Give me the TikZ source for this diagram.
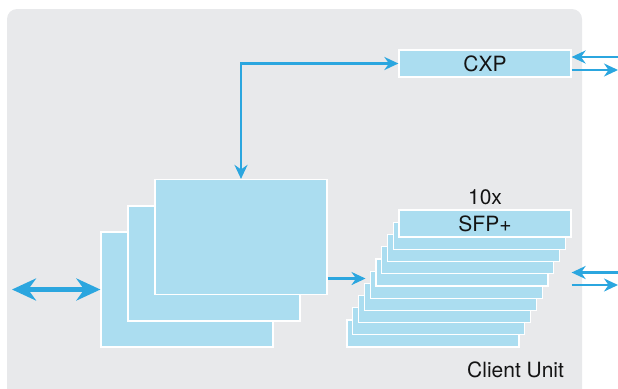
\documentclass[tikz,border=0pt]{standalone}
\usepackage{fontspec}
\setmainfont{TeX Gyre Heros}
\usepackage{tikz}
\usetikzlibrary{arrows.meta, positioning}

\definecolor{panelgray}{HTML}{E8E9EB}
\definecolor{boxblue}{HTML}{ABDDF0}
\definecolor{arrowblue}{HTML}{2BA6DF}

\tikzset{
    card/.style={draw=white, line width=1.2pt, fill=boxblue, minimum width=172pt, minimum height=115pt, inner sep=0pt},
    slot/.style={draw=white, line width=1.2pt, fill=boxblue, minimum width=172pt, minimum height=27pt, inner sep=0pt},
    link/.style={draw=arrowblue, line width=2.8pt, -{Stealth[length=14pt, width=13pt]}},
    duallink/.style={draw=arrowblue, line width=2.8pt, {Stealth[length=14pt, width=13pt]}-{Stealth[length=14pt, width=13pt]}},
    biglink/.style={draw=arrowblue, line width=4.5pt, {Stealth[length=24pt, width=22pt]}-{Stealth[length=24pt, width=22pt]}},
    label/.style={font=\fontsize{21}{25}\selectfont, text=black!92}
}

\begin{document}
\begin{tikzpicture}[x=1pt, y=-1pt]
    \useasboundingbox (0,0) rectangle (618,388);

    % grey unit panel
    \fill[panelgray, rounded corners=10pt] (7,9) rectangle (582,400);

    % CXP module
    \node[slot, label] (cxp) at (485,63.5) {CXP};

    % stacked line cards
    \node[card] (card1) at (187,289.5) {};
    \node[card] (card2) at (214,263.5) {};
    \node[card] (card3) at (241,237) {};

    % 10x SFP+ stack, back to front
    \foreach \i in {0,...,9} {
        \node[slot] (sfp\i) at ({433+5.78*\i}, {333.5-12.22*\i}) {};
    }
    \node[label] at (sfp9) {SFP+};
    \node[label, above=1pt of sfp9] (count) {10x};

    \node[label, anchor=east] (unitlabel) at (567.5,370) {Client Unit};

    % connectors
    \draw[duallink] (cxp.west) -| (card3.north);

    \coordinate (host) at (12,289.5);
    \draw[biglink] (host) -- (card1.west);

    \coordinate (sfpin) at ([xshift=-4pt, yshift=-8pt]sfp4.north west);
    \draw[link] (card3.east |- sfpin) -- (sfpin);

    \coordinate (cxpin) at (618,57);
    \coordinate (cxpout) at (618,70);
    \draw[link] (cxpin) -- (cxpin -| cxp.east);
    \draw[link] (cxpout -| cxp.east) -- (cxpout);

    \coordinate (sfpa) at (618,272.5);
    \coordinate (sfpb) at (618,285);
    \draw[link] (sfpa) -- (sfpa -| sfp9.east);
    \draw[link] (sfpb -| sfp9.east) -- (sfpb);
\end{tikzpicture}
\end{document}
